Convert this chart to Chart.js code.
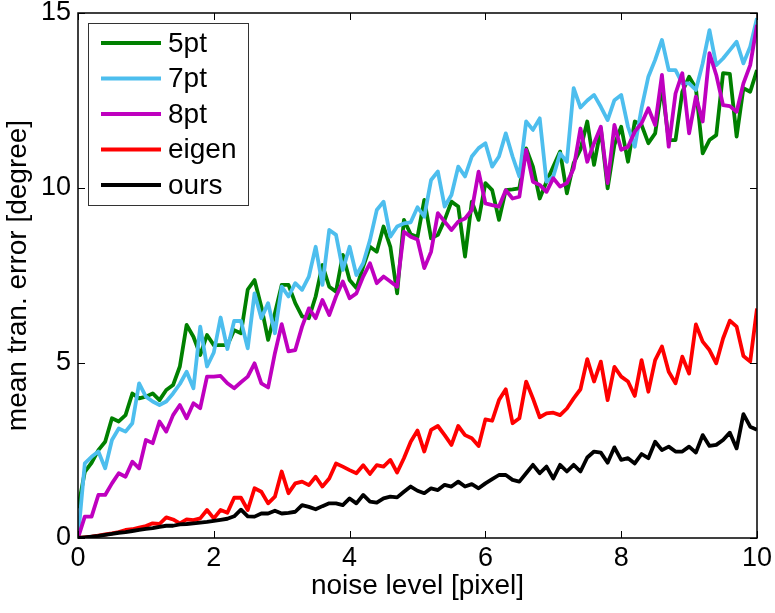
<!DOCTYPE html>
<html>
<head>
<meta charset="utf-8">
<script src="https://cdn.jsdelivr.net/npm/chart.js@4/dist/chart.umd.min.js"></script>
<style>
  html, body { margin: 0; padding: 0; background: #fff; }
  #grafico { display: block; }
</style>
</head>
<body>
<canvas id="grafico" width="775" height="613"></canvas>
<script>
// noise level [pixel]
const noiseLevel = [
  0.0, 0.1, 0.2, 0.3, 0.4, 0.5, 0.6, 0.7, 0.8, 0.9,
  1.0, 1.1, 1.2, 1.3, 1.4, 1.5, 1.6, 1.7, 1.8, 1.9,
  2.0, 2.1, 2.2, 2.3, 2.4, 2.5, 2.6, 2.7, 2.8, 2.9,
  3.0, 3.1, 3.2, 3.3, 3.4, 3.5, 3.6, 3.7, 3.8, 3.9,
  4.0, 4.1, 4.2, 4.3, 4.4, 4.5, 4.6, 4.7, 4.8, 4.9,
  5.0, 5.1, 5.2, 5.3, 5.4, 5.5, 5.6, 5.7, 5.8, 5.9,
  6.0, 6.1, 6.2, 6.3, 6.4, 6.5, 6.6, 6.7, 6.8, 6.9,
  7.0, 7.1, 7.2, 7.3, 7.4, 7.5, 7.6, 7.7, 7.8, 7.9,
  8.0, 8.1, 8.2, 8.3, 8.4, 8.5, 8.6, 8.7, 8.8, 8.9,
  9.0, 9.1, 9.2, 9.3, 9.4, 9.5, 9.6, 9.7, 9.8, 9.9,
  10.0
];

const err5pt = [
  0.85, 1.89, 2.15, 2.51, 2.75, 3.42, 3.33, 3.51, 4.13, 3.99,
  4.04, 4.13, 3.94, 4.23, 4.37, 4.9, 6.09, 5.75, 5.23, 5.8,
  5.51, 5.51, 5.51, 5.94, 5.85, 7.1, 7.37, 6.61, 5.66, 6.42,
  7.23, 7.23, 6.71, 6.33, 6.28, 6.9, 7.8, 7.18, 7.04, 8.09,
  7.37, 7.14, 7.75, 8.32, 8.18, 8.9, 8.32, 6.99, 9.09, 8.68,
  8.6, 9.66, 8.56, 8.66, 9.09, 9.61, 9.47, 8.04, 9.61, 9.09,
  10.14, 9.94, 9.09, 9.94, 9.96, 9.99, 11.13, 10.61, 9.7, 10.18,
  10.61, 11.04, 9.85, 10.71, 11.1, 11.9, 10.66, 11.7, 9.99, 11.23,
  11.75, 10.75, 11.9, 11.8, 11.28, 11.56, 12.9, 11.37, 11.37, 12.75,
  13.18, 12.85, 10.99, 11.37, 11.51, 13.28, 13.26, 11.47, 12.85, 12.75,
  13.37
];

const err7pt = [
  0, 2.13, 2.32, 2.47, 1.99, 2.8, 3.13, 3.04, 3.28, 4.42,
  4.04, 3.9, 3.8, 3.9, 4.13, 4.4, 4.75, 4.28, 6.04, 4.9,
  5.3, 6.3, 5.4, 6.2, 6.2, 5.42, 6.99, 6.28, 6.71, 5.85,
  7.18, 6.9, 7.28, 7.09, 7.47, 8.32, 7.23, 8.8, 8.66, 7.66,
  8.32, 7.51, 7.85, 8.51, 9.37, 9.61, 8.61, 8.9, 8.99, 9.02,
  9.45, 9.18, 10.23, 10.47, 9.47, 9.8, 10.61, 10.33, 10.9, 11.14,
  11.28, 10.61, 10.9, 11.56, 10.9, 10.33, 11.9, 11.66, 11.99, 10.18,
  10.33, 10.99, 10.75, 12.85, 12.3, 12.5, 12.66, 12.32, 11.94, 12.51,
  12.66, 11.75, 11.18, 12.28, 13.18, 13.66, 14.23, 13.37, 13.37, 12.99,
  12.99, 12.8, 13.56, 14.51, 13.51, 13.7, 13.94, 14.18, 13.56, 14.04,
  14.85
];

const err8pt = [
  0, 0.61, 0.61, 1.23, 1.23, 1.56, 1.85, 1.75, 2.18, 1.99,
  2.8, 2.71, 3.33, 3.04, 3.51, 3.8, 3.42, 3.85, 3.71, 4.61,
  4.61, 4.63, 4.42, 4.28, 4.45, 4.61, 4.99, 4.42, 4.3, 5.28,
  6.11, 5.33, 5.37, 6.04, 6.56, 6.28, 6.8, 6.37, 6.9, 7.33,
  6.85, 6.99, 7.47, 7.85, 7.28, 7.47, 7.33, 7.18, 8.75, 8.61,
  8.53, 7.71, 8.18, 9.28, 9.04, 8.8, 9.04, 9.13, 9.37, 10.47,
  9.56, 9.51, 9.47, 9.94, 9.7, 9.75, 11.09, 10.18, 10.09, 9.89,
  10.28, 10.04, 10.14, 10.56, 11.7, 10.75, 11.28, 11.75, 10.14, 11.8,
  11.09, 11.18, 11.61, 11.85, 12.28, 11.8, 13.23, 11.18, 12.7, 13.28,
  11.56, 12.61, 11.9, 13.85, 13.23, 12.37, 12.34, 12.18, 12.99, 13.51,
  14.66
];

const errEigen = [
  0, 0.02, 0.04, 0.07, 0.1, 0.13, 0.17, 0.23, 0.25, 0.3,
  0.34, 0.42, 0.4, 0.59, 0.53, 0.42, 0.53, 0.51, 0.56, 0.8,
  0.56, 0.8, 0.72, 1.15, 1.15, 0.8, 1.42, 1.32, 0.99, 1.18,
  1.9, 1.28, 1.56, 1.61, 1.51, 1.75, 1.47, 1.7, 2.13, 2.04,
  1.94, 1.85, 2.08, 1.83, 2.08, 2.04, 2.23, 1.87, 2.28, 2.75,
  3.07, 2.47, 3.09, 3.2, 2.94, 2.66, 3.2, 2.94, 2.85, 2.63,
  3.39, 3.35, 3.94, 4.25, 3.28, 3.42, 4.47, 3.99, 3.45, 3.56,
  3.58, 3.51, 3.7, 3.99, 4.25, 5.11, 4.47, 5.04, 3.94, 4.89,
  4.61, 4.47, 4.06, 5.08, 4.18, 5.08, 5.47, 4.75, 4.42, 5.18,
  4.7, 6.1, 5.61, 5.37, 4.99, 5.7, 6.21, 6.04, 5.2, 5.04,
  6.56
];

const errOurs = [
  0, 0.02, 0.04, 0.06, 0.09, 0.12, 0.15, 0.17, 0.2, 0.23,
  0.26, 0.28, 0.32, 0.35, 0.35, 0.39, 0.4, 0.42, 0.44, 0.46,
  0.49, 0.52, 0.55, 0.62, 0.81, 0.62, 0.61, 0.7, 0.7, 0.78,
  0.7, 0.72, 0.75, 0.94, 0.89, 0.82, 0.91, 0.99, 0.99, 0.94,
  1.13, 0.99, 1.23, 1.04, 1.01, 1.13, 1.18, 1.16, 1.32, 1.47,
  1.35, 1.28, 1.42, 1.37, 1.52, 1.47, 1.61, 1.47, 1.54, 1.42,
  1.56, 1.68, 1.8, 1.8, 1.66, 1.61, 1.85, 2.09, 1.85, 2.04,
  1.7, 2.09, 1.9, 2.09, 1.9, 2.3, 2.47, 2.44, 2.15, 2.59,
  2.23, 2.28, 2.13, 2.4, 2.28, 2.75, 2.51, 2.61, 2.47, 2.47,
  2.61, 2.44, 2.94, 2.63, 2.66, 2.8, 3.01, 2.56, 3.54, 3.18,
  3.09
];

const xTicks = [0, 2, 4, 6, 8, 10];
const yTicks = [0, 5, 10, 15];

const FUENTE = "'Liberation Sans', Arial, Helvetica, sans-serif";

function serie(label, valores, color, orden) {
  return {
    label: label,
    data: valores.map((v, i) => ({ x: noiseLevel[i], y: v })),
    borderColor: color,
    backgroundColor: color,
    borderWidth: 3.8,
    borderJoinStyle: 'round',
    pointRadius: 0,
    tension: 0,
    fill: false,
    order: orden // el ultimo dibujado queda encima, como en matlab
  };
}

// caja con ticks hacia dentro y leyenda dentro del area
const cajaYLeyenda = {
  id: 'cajaYLeyenda',
  afterDatasetsDraw(chart) {
    const ctx = chart.ctx;
    const area = chart.chartArea;
    const sx = chart.scales.x;
    const sy = chart.scales.y;
    const largo = 7;

    ctx.save();
    ctx.strokeStyle = '#000';
    ctx.lineWidth = 1.5;
    ctx.strokeRect(area.left, area.top, area.right - area.left, area.bottom - area.top);

    ctx.lineWidth = 1;
    ctx.beginPath();
    xTicks.forEach(v => {
      const px = Math.round(sx.getPixelForValue(v)) + 0.5;
      ctx.moveTo(px, area.bottom); ctx.lineTo(px, area.bottom - largo);
      ctx.moveTo(px, area.top); ctx.lineTo(px, area.top + largo);
    });
    yTicks.forEach(v => {
      const py = Math.round(sy.getPixelForValue(v)) + 0.5;
      ctx.moveTo(area.left, py); ctx.lineTo(area.left + largo, py);
      ctx.moveTo(area.right, py); ctx.lineTo(area.right - largo, py);
    });
    ctx.stroke();

    // leyenda
    const x0 = area.left + 10, y0 = area.top + 10;
    const ancho = 160, alto = 182, fila = 35.5;
    ctx.fillStyle = '#fff';
    ctx.fillRect(x0, y0, ancho, alto);
    ctx.strokeStyle = '#333';
    ctx.lineWidth = 1;
    ctx.strokeRect(x0 + 0.5, y0 + 0.5, ancho, alto);

    ctx.font = '28px ' + FUENTE;
    ctx.textBaseline = 'middle';
    ctx.textAlign = 'left';
    chart.data.datasets.forEach((ds, i) => {
      const cy = y0 + 20 + i * fila;
      ctx.strokeStyle = ds.borderColor;
      ctx.lineWidth = 4;
      ctx.beginPath();
      ctx.moveTo(x0 + 13, cy);
      ctx.lineTo(x0 + 73, cy);
      ctx.stroke();
      ctx.fillStyle = '#000';
      ctx.fillText(ds.label, x0 + 80, cy + 1);
    });
    ctx.restore();
  }
};

new Chart(document.getElementById('grafico'), {
  type: 'line',
  data: {
    datasets: [
      serie('5pt', err5pt, '#008000', 5),
      serie('7pt', err7pt, '#4DBEEE', 4),
      serie('8pt', err8pt, '#BF00BF', 3),
      serie('eigen', errEigen, '#FF0000', 2),
      serie('ours', errOurs, '#000000', 1)
    ]
  },
  options: {
    responsive: false,
    devicePixelRatio: 1,
    animation: false,
    layout: { padding: { left: 0, right: 18, top: 13, bottom: 0 } },
    plugins: {
      legend: { display: false },
      tooltip: { enabled: false }
    },
    scales: {
      x: {
        type: 'linear',
        min: 0,
        max: 10,
        afterFit: s => { s.height = 75; s.paddingLeft = 0; s.paddingRight = 0; },
        afterBuildTicks: s => { s.ticks = xTicks.map(v => ({ value: v })); },
        grid: { display: false, drawTicks: false },
        border: { display: false },
        ticks: { color: '#000', padding: 4, maxRotation: 0, font: { family: FUENTE, size: 27 } },
        title: {
          display: true,
          text: 'noise level [pixel]',
          color: '#000',
          padding: { top: 0, bottom: 10 },
          font: { family: FUENTE, size: 28 }
        }
      },
      y: {
        min: 0,
        max: 15,
        afterFit: s => { s.width = 78; s.paddingTop = 0; s.paddingBottom = 0; },
        afterBuildTicks: s => { s.ticks = yTicks.map(v => ({ value: v })); },
        grid: { display: false, drawTicks: false },
        border: { display: false },
        ticks: { color: '#000', padding: 7, font: { family: FUENTE, size: 27 } },
        title: {
          display: true,
          text: 'mean tran. error [degree]',
          color: '#000',
          padding: { top: 1, bottom: 0 },
          font: { family: FUENTE, size: 28 }
        }
      }
    }
  },
  plugins: [cajaYLeyenda]
});
</script>
</body>
</html>
